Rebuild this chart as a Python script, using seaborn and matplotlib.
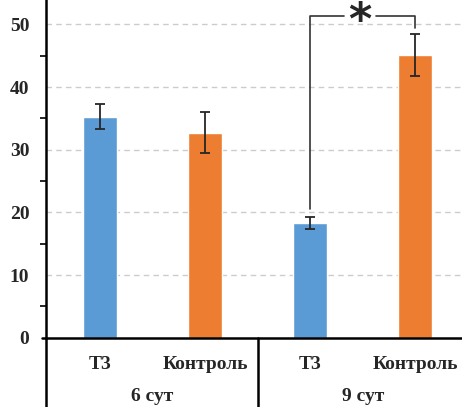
import numpy as np
import pandas as pd
import matplotlib
matplotlib.use("Agg")
import matplotlib.pyplot as plt
import seaborn as sns

groups = ["6 сут", "6 сут", "9 сут", "9 сут"]
treatments = ["Т3", "Контроль", "Т3", "Контроль"]
means = [35.3, 32.7, 18.3, 45.1]
errors = [2.0, 3.3, 1.0, 3.4]
group_names = ["6 сут", "9 сут"]
palette = {"Т3": "#5B9BD5", "Контроль": "#ED7D31"}

df = pd.DataFrame({"group": groups, "treatment": treatments, "value": means})
df["key"] = df["group"] + " " + df["treatment"]

sns.set_style("white")
plt.rcParams["font.family"] = ["Liberation Serif", "DejaVu Serif"]
plt.rcParams["font.weight"] = "bold"

fig = plt.figure(figsize=(4.62, 4.07), dpi=100)
ax = fig.add_axes([0.0996, 0.1703, 0.9004, 0.8297])

sns.barplot(data=df, x="key", y="value", hue="treatment", palette=palette,
            dodge=False, width=0.32, errorbar=None, legend=False, ax=ax,
            saturation=1)
xpos = np.arange(len(means))
ax.errorbar(xpos, means, yerr=errors, fmt="none", ecolor="#262626",
            elinewidth=1.3, capsize=3.5, capthick=1.3, zorder=3)

ax.set_ylim(0, 53.9)
ax.set_xlim(-0.514, 3.446)
ax.set_yticks([0, 10, 20, 30, 40, 50])
ax.set_yticks(np.arange(5, 50, 10), minor=True)
for y in [10, 20, 30, 40, 50]:
    ax.axhline(y, color="#cccccc", lw=1, ls=(0, (4, 3)), zorder=0)
ax.tick_params(axis="y", which="major", length=0, pad=12, labelsize=14)
ax.tick_params(axis="y", which="minor", length=4, width=1.2, color="black",
               direction="out", left=True)
for lab in ax.get_yticklabels():
    lab.set_fontweight("bold")

ax.set_xticks([])
ax.set_xlabel("")
ax.set_ylabel("")
for s in ["top", "right", "bottom"]:
    ax.spines[s].set_visible(False)
ax.spines["left"].set_linewidth(1.8)
ax.spines["left"].set_color("black")

# category axis below the plot
trans = ax.get_xaxis_transform()
ax.plot([-0.55, 3.48], [0, 0], transform=trans, color="black", lw=1.8,
        clip_on=False, zorder=5)
ax.plot([-0.514, -0.514], [0, -0.21], transform=trans, color="black", lw=1.8,
        clip_on=False)
ax.plot([1.5, 1.5], [0, -0.21], transform=trans, color="black", lw=1.8,
        clip_on=False)
for x, t in zip(xpos, treatments):
    ax.text(x, -0.08, t, transform=trans, ha="center", va="center",
            fontsize=14, fontweight="bold")
for i, g in enumerate(group_names):
    ax.text(2 * i + 0.5, -0.175, g, transform=trans, ha="center", va="center",
            fontsize=14, fontweight="bold")

# significance bracket
ax.plot([2, 2, 2.32], [20.5, 51.4, 51.4], color="#333333", lw=1.2,
        clip_on=False)
ax.plot([2.63, 3, 3], [51.4, 51.4, 49.5], color="#333333", lw=1.2,
        clip_on=False)
ax.text(2.475, 50.4, "*", ha="center", va="center", fontsize=32,
        fontweight="bold", family="DejaVu Sans")

fig.savefig("out.png", dpi=100)
